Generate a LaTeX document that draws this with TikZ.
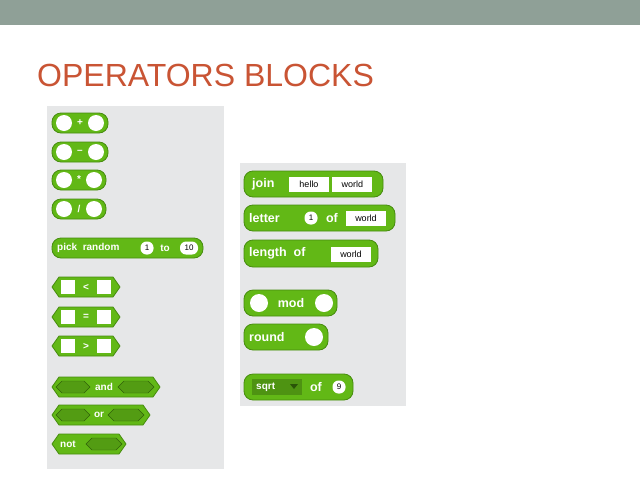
\documentclass[tikz,border=0pt]{standalone}
\usepackage{fontspec}
\setmainfont{Liberation Sans}
\usetikzlibrary{positioning}
\definecolor{bargray}{RGB}{143,160,151}
\definecolor{titlered}{RGB}{201,84,52}
\definecolor{panel}{RGB}{230,231,232}
\definecolor{blockgreen}{RGB}{98,184,22}
\definecolor{blockedge}{RGB}{70,140,14}
\tikzset{
  pill/.style={fill=blockgreen,draw=blockedge,line width=0.8pt,rounded corners=9pt},
  hexa/.style={fill=blockgreen,draw=blockedge,line width=0.8pt},
  lbl/.style={text=white,font=\bfseries\fontsize{10}{11}\selectfont,inner sep=0pt},
  biglbl/.style={lbl,font=\bfseries\fontsize{12.5}{13}\selectfont},
  txtbox/.style={fill=white,inner sep=1pt,font=\fontsize{9}{10}\selectfont,minimum height=15pt},
  numbox/.style={fill=white,rounded corners=6pt,inner sep=1.5pt,font=\fontsize{8}{9}\selectfont,minimum height=13pt,minimum width=13pt},
  hslot/.style={fill=blockgreen!85!black,draw=blockedge!70!black,line width=0.4pt}
}
% pill shaped reporter block
\newcommand{\pillblock}[4]{\draw[pill] (#1,#2) rectangle (#3,#4);}
% hexagonal boolean block
\newcommand{\hexblock}[4]{\draw[hexa] (#1,{(#2+#4)/2}) -- (#1+7,#2) -- (#3-7,#2) -- (#3,{(#2+#4)/2}) -- (#3-7,#4) -- (#1+7,#4) -- cycle;}
\newcommand{\hexslot}[3]{\draw[hslot] (#1,#2) -- (#1+6,#2-6) -- (#1+#3-6,#2-6) -- (#1+#3,#2) -- (#1+#3-6,#2+6) -- (#1+6,#2+6) -- cycle;}
\begin{document}
\begin{tikzpicture}[x=1pt,y=-1pt]
  \useasboundingbox (0,0) rectangle (640,480);
  \fill[white] (0,0) rectangle (640,480);
  \fill[bargray] (0,0) rectangle (640,25);
  \node[anchor=base west,text=titlered,font=\fontsize{32}{34}\selectfont,inner sep=0pt] (title) at (37,86) {OPERATORS BLOCKS};
  % panels
  \fill[panel] (47,106) rectangle (224,469);
  \fill[panel] (240,163) rectangle (406,406);
  %% arithmetic
  \foreach \y/\w in {113/108,142/108,170/106,199/106}{
    \pillblock{52}{\y}{\w}{\y+20}
    \fill[white] (64,\y+10) circle (8pt);
    \fill[white] (\w-12,\y+10) circle (8pt);
  }
  \node[lbl] (plus) at (80,123) {+};
  \node[lbl] (minus) at (80,152) {–};
  \node[lbl] (times) at (79,179) {*};
  \node[lbl] (divide) at (79,209) {/};
  %% pick random
  \pillblock{52}{238}{203}{258}
  \node[lbl,anchor=west] (pick) at (57,248) {pick\ \ random};
  \node[numbox] (rfrom) at (147,248) {1};
  \node[lbl] (rto) at (165,248) {to};
  \node[numbox,minimum width=18pt] (rupto) at (189,248) {10};
  %% comparisons
  \foreach \y/\op in {277/<,307/=,336/>}{
    \hexblock{52}{\y}{120}{\y+20}
    \fill[white] (61,\y+3) rectangle (75,\y+17);
    \fill[white] (97,\y+3) rectangle (111,\y+17);
    \node[lbl] at (86,\y+10) {\op};
  }
  %% logic
  \hexblock{52}{377}{160}{397}
  \hexslot{56}{387}{34}
  \hexslot{118}{387}{36}
  \node[lbl] (and) at (104,387) {and};
  \hexblock{52}{405}{150}{425}
  \hexslot{56}{415}{34}
  \hexslot{108}{415}{36}
  \node[lbl] (or) at (99,415) {or};
  \hexblock{52}{434}{126}{454}
  \node[lbl,anchor=west] (not) at (60,444) {not};
  \hexslot{86}{444}{36}
  %% strings
  \pillblock{244}{171}{383}{197}
  \node[biglbl,anchor=west] (join) at (252,184) {join};
  \node[txtbox,minimum width=40pt] (hello) at (309,184) {hello};
  \node[txtbox,minimum width=40pt,right=3pt of hello] (world1) {world};
  \pillblock{244}{205}{395}{231}
  \node[biglbl,anchor=west] (letter) at (249,218) {letter};
  \node[numbox] (idx) at (311,218) {1};
  \node[biglbl] (lof) at (332,218) {of};
  \node[txtbox,minimum width=40pt] (world2) at (366,218) {world};
  \pillblock{244}{240}{378}{267}
  \node[biglbl,anchor=west] (length) at (249,253) {length\ \ of};
  \node[txtbox,minimum width=40pt] (world3) at (351,254) {world};
  %% math
  \pillblock{244}{290}{337}{316}
  \fill[white] (259,303) circle (9pt);
  \fill[white] (324,303) circle (9pt);
  \node[biglbl] (mod) at (291,303) {mod};
  \pillblock{244}{324}{328}{350}
  \node[biglbl,anchor=west] (round) at (249,337) {round};
  \fill[white] (314,337) circle (9pt);
  \pillblock{244}{374}{353}{400}
  \fill[blockgreen!80!black] (252,379) rectangle (302,395);
  \node[lbl,anchor=west] (sqrt) at (256,387) {sqrt};
  \fill[blockedge!60!black] (290,384) -- (298,384) -- (294,389) -- cycle;
  \node[biglbl] (sof) at (316,387) {of};
  \node[numbox] (nine) at (339,387) {9};
\end{tikzpicture}
\end{document}
